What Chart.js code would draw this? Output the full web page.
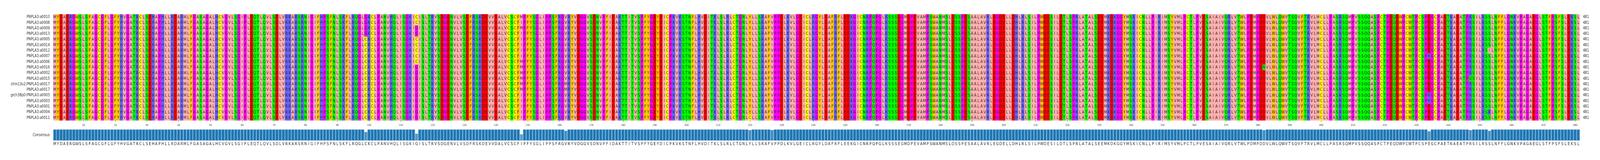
<!DOCTYPE html>
<html lang="en">
<head>
<meta charset="UTF-8">
<script src="https://cdn.jsdelivr.net/npm/chart.js"></script>
<title>PNPLA3 alignment</title>
<style>
  html, body { margin: 0; padding: 0; background: #fff; overflow: hidden; }
  #msa { display: block; width: 100vw !important; height: 100vh !important; }
</style>
</head>
<body>
<canvas id="msa" width="5082" height="409"></canvas>
<script>
// sequence names, top to bottom
const names = [
  'PNPLA3:a0010', 'PNPLA3:a0008', 'PNPLA3:a0009', 'PNPLA3:a0013', 'PNPLA3:a0005',
  'PNPLA3:a0014', 'PNPLA3:a0012', 'PNPLA3:a0007', 'PNPLA3:a0006', 'PNPLA3:a0016',
  'PNPLA3:a0002', 'PNPLA3:a0015', 'chm13v2:PNPLA3:a0017', 'PNPLA3:a0017',
  'grch38p0:PNPLA3:a0003', 'PNPLA3:a0003', 'PNPLA3:a0001', 'PNPLA3:a0004', 'PNPLA3:a0011'
];

// consensus, 481 residues
const consensus = (
  'MYDAERGWSLSFAGCGFLGFYHVGATRCLSEHAPHLLRDARMLFGASA' +
  'GALHCVGVLSGIPLEQTLQVLSDLVRKARSRNIGIFHPSFNLSKFLRQ' +
  'GLCKCLPANVHQLISGKIGISLTRVSDGENVLVSDFRSKDEVVDALVCS' +
  'CFIPFYSGLIPPSFRGVRYVDGGVSDNVPFIDAKTTITVSPFYGEYDI' +
  'CPKVKSTNFLHVDITKLSLRLCTGNLYLLSRAFVPPDLKVLGEICLRG' +
  'YLDAFRFLEEKGICNRPQPGLKSSSEGMDPEVAMPSWANMSLDSSPES' +
  'AALAVRLEGDELLDHLRLSILPWDESILDTLSPRLATALSEEMKDKGG' +
  'YMSKICNLLPIRIMSYVMLPCTLPVESAIAIVQRLVTWLPDMPDDVLW' +
  'LQWVTSQVFTRVLMCLLPASRSQMPVSSQQASPCTPEQDWPCWTPCSP' +
  'EGCPAETKAEATPRSILRSSLNFFLGNKVPAGAEGLSTFPSFSLEKSL'
).split('');

// differences from consensus: [position (1-based), residue, rows]
const variants = [
  [99, 'G', [0, 1, 2, 3]],
  [115, 'C', [0, 1, 4, 5, 6, 7, 8]],
  [148, 'M', [0, 2, 8, 9, 10, 11, 12, 13]],
  [162, 'M', [12, 13]],
  [220, 'C', [18]],
  [227, 'I', [5]],
  [382, 'N', [9]],
  [434, 'K', [7, 14, 15]],
  [447, 'Q', [11]],
  [453, 'I', [6]],
  [453, 'R', [17]]
];

const tickPositions = [10, 20, 30, 40, 50, 60, 70, 80, 90, 100, 110, 120, 130, 140, 150, 160, 170, 180, 190, 200,
  210, 220, 230, 240, 250, 260, 270, 280, 290, 300, 310, 320, 330, 340, 350, 360, 370, 380, 390, 400,
  410, 420, 430, 440, 450, 460, 470, 480];

const residueColors = {
  A: '#ffafaf', I: '#ffafaf', L: '#ffafaf', M: '#ffafaf', V: '#ffafaf',
  F: '#ffc800', Y: '#ffc800', W: '#ffc800',
  K: '#6464ff', R: '#6464ff', H: '#6464ff',
  D: '#ff0000', E: '#ff0000',
  S: '#00ff00', T: '#00ff00', N: '#00ff00', Q: '#00ff00',
  G: '#ff00ff', P: '#ff00ff',
  C: '#ffff00'
};

// build the rows
const seqs = names.map(() => consensus.slice());
variants.forEach(([pos, aa, rows]) => rows.forEach(r => { seqs[r][pos - 1] = aa; }));
const nRows = seqs.length;
const labels = consensus.map((_, i) => String(i + 1));
const freq = consensus.map((c, i) => seqs.filter(s => s[i] === c).length / nRows);

const barBottom = 22.63, barSpan = 2.03;

const datasets = seqs.map((s, r) => ({
  data: s.map(() => [r, r + 1]),
  backgroundColor: s.map(c => residueColors[c] || '#ffffff'),
  borderWidth: 0,
  grouped: false,
  barPercentage: 1,
  categoryPercentage: 1
}));
datasets.push({
  data: freq.map(f => [barBottom - barSpan * f, barBottom]),
  backgroundColor: freq.map(f => f > 0.99 ? '#1f77b4' : 'rgba(31,119,180,' + (0.55 + 0.3 * f).toFixed(2) + ')'),
  borderColor: '#dce9f3',
  borderWidth: 1,
  borderSkipped: false,
  grouped: false,
  barPercentage: 1,
  categoryPercentage: 1
});

const textPlugin = {
  id: 'msaText',
  afterDatasetsDraw(chart) {
    const { ctx, scales: { x, y } } = chart;
    const colW = x.getPixelForValue(1) - x.getPixelForValue(0);
    ctx.save();
    ctx.textBaseline = 'middle';
    // residues
    ctx.font = '11px "DejaVu Sans"';
    ctx.fillStyle = '#262626';
    ctx.textAlign = 'center';
    seqs.forEach((s, r) => {
      const py = y.getPixelForValue(r + 0.5);
      s.forEach((c, i) => ctx.fillText(c, x.getPixelForValue(i), py + 0.5));
    });
    // consensus letters
    consensus.forEach((c, i) => ctx.fillText(c, x.getPixelForValue(i), 368));
    // names and lengths
    ctx.font = '10px "DejaVu Sans"';
    ctx.textAlign = 'right';
    names.forEach((n, r) => ctx.fillText(n, 158, y.getPixelForValue(r + 0.5) + 0.5));
    ctx.fillText('Consensus', 158, y.getPixelForValue(barBottom - barSpan / 2));
    ctx.textAlign = 'left';
    seqs.forEach((s, r) => ctx.fillText(String(s.length), x.getPixelForValue(s.length - 1) + colW / 2 + 10, y.getPixelForValue(r + 0.5) + 0.5));
    // position ticks
    const ty = y.getPixelForValue(nRows);
    ctx.strokeStyle = '#333';
    ctx.lineWidth = 1;
    ctx.font = '7px "DejaVu Sans"';
    ctx.fillStyle = '#333';
    ctx.textAlign = 'center';
    tickPositions.forEach(p => {
      const px = Math.round(x.getPixelForValue(p - 1)) + 0.5;
      ctx.beginPath();
      ctx.moveTo(px, ty);
      ctx.lineTo(px, ty + 3.5);
      ctx.stroke();
      ctx.fillText(String(p), px, ty + 12);
    });
    ctx.restore();
  }
};

new Chart(document.getElementById('msa'), {
  type: 'bar',
  data: { labels, datasets },
  options: {
    responsive: false,
    animation: false,
    devicePixelRatio: 1,
    layout: { padding: { left: 169, right: 64, top: 36, bottom: 34 } },
    plugins: { legend: { display: false }, tooltip: { enabled: false } },
    scales: {
      x: { display: false, offset: true },
      y: { display: false, reverse: true, min: 0, max: 23.7 }
    }
  },
  plugins: [textPlugin]
});
</script>
</body>
</html>
